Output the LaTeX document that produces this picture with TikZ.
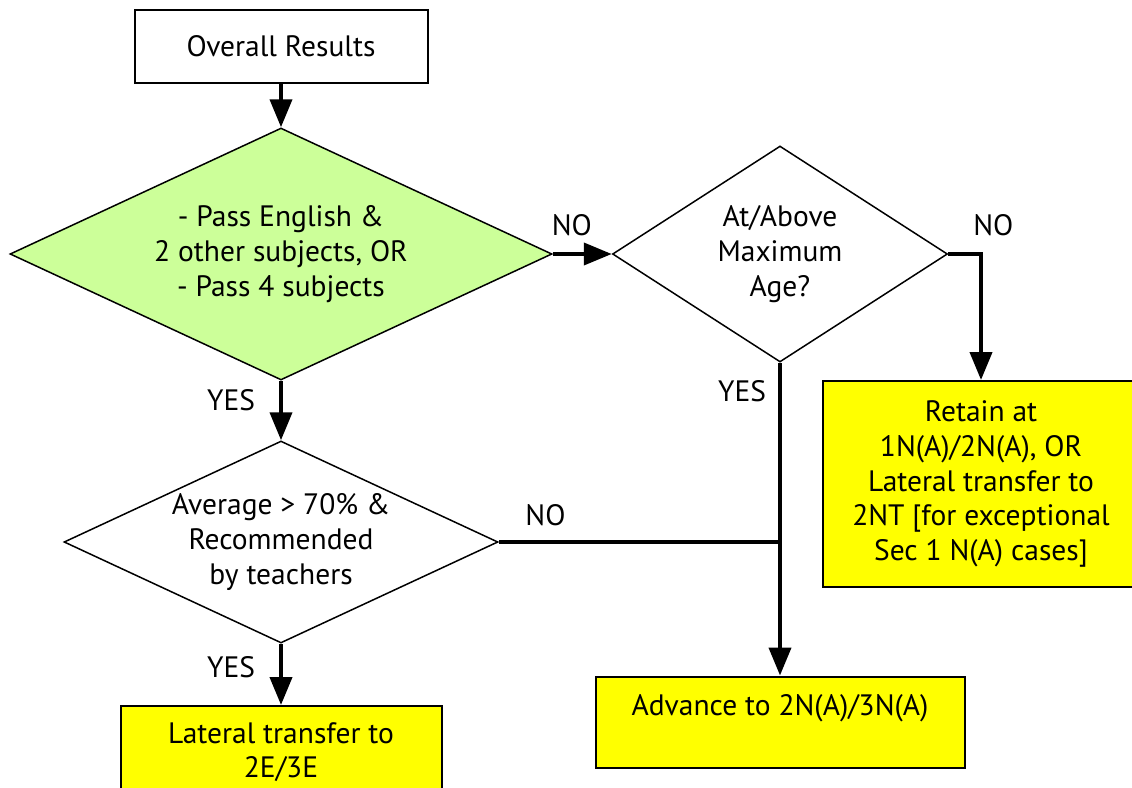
\documentclass[tikz,border=0pt]{standalone}
\usepackage{fontspec}
\setmainfont{PT Sans}
\usepackage{tikz}
\usetikzlibrary{shapes.geometric,arrows.meta,positioning}
\tikzset{>={Triangle[length=28pt,width=22pt]}}
\usepackage{xcolor}
\definecolor{passcol}{RGB}{204,255,153}
\definecolor{outcol}{RGB}{255,255,0}
\tikzstyle{startbox}=[draw,line width=2pt,fill=white,inner sep=0,align=center]
\tikzstyle{outcome}=[draw,line width=2pt,fill=outcol,inner sep=0,align=center]
\tikzstyle{decision}=[diamond,draw,line width=1.5pt,inner sep=0,align=center]
\tikzstyle{flow}=[->,line width=4pt]
\tikzstyle{answer}=[inner sep=0]

\begin{document}
\begin{tikzpicture}[x=1pt,y=-1pt,font=\fontsize{29.5}{34.7}\selectfont]
  \useasboundingbox (0,0) rectangle (1132,787);

  % BOXES
  \node[startbox,minimum width=293pt,minimum height=73pt] (start)
    at (281,46) {Overall Results};
  \node[decision,fill=passcol,minimum width=542pt,minimum height=252pt,
        aspect=2.15] (pass)
    at (281,254) {- Pass English \&\\2 other subjects, OR\\- Pass 4 subjects};
  \node[decision,minimum width=335pt,minimum height=216pt,aspect=1.55] (age)
    at (780,254) {At/Above\\Maximum\\Age?};
  \node[decision,minimum width=434pt,minimum height=202pt,aspect=2.2] (avg)
    at (281,542) {Average > 70\% \&\\Recommended\\by teachers};

  % OUTCOMES
  \node[outcome,minimum width=316pt,minimum height=206pt] (retain)
    at (981,484) {Retain at\\1N(A)/2N(A), OR\\Lateral transfer to\\
                  2NT [for exceptional\\Sec 1 N(A) cases]};
  \node[outcome,minimum width=369pt,minimum height=91pt] (advance)
    at (780,722) {Advance to 2N(A)/3N(A)\\\mbox{}};
  \node[outcome,minimum width=321pt,minimum height=92pt] (lateral)
    at (281,752) {Lateral transfer to\\2E/3E};

  % ARROWS
  \draw[flow] (start) -- (pass);
  \draw[flow] (pass.east) -- (age.west)
    node[answer,at start,above right=16pt and -3pt] {NO};
  \draw[flow] (age.east) -| (retain.north)
    node[answer,at start,above right=16pt and 23pt] {NO};
  \draw[flow] (pass.south) -- (avg.north)
    node[answer,pos=0.33,left=24pt] {YES};
  \draw[flow] (age.south) -- (advance.north)
    node[answer,pos=0.09,left=12pt] {YES};
  \draw[flow] (avg.south) -- (lateral.north)
    node[answer,pos=0.38,left=24pt] {YES};
  \draw[line width=4pt] (avg.east) -- (avg.east -| age.south)
    node[answer,pos=0.166,above=14pt] {NO};

\end{tikzpicture}
\end{document}
